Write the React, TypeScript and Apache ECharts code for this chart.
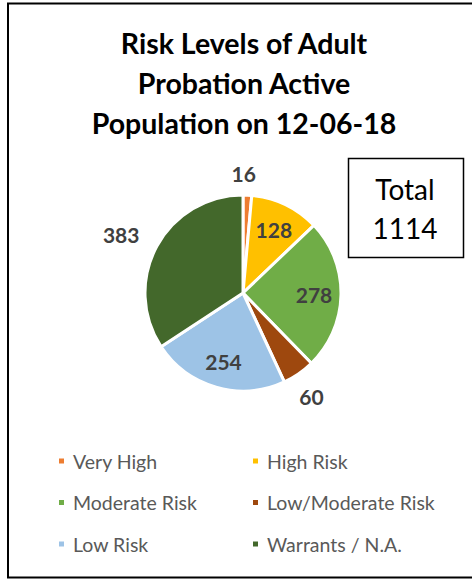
import React, { useEffect, useRef } from "react";
import * as echarts from "echarts";

const categories = ["Very High", "High Risk", "Moderate Risk", "Low/Moderate Risk", "Low Risk", "Warrants / N.A."];
const values = [16, 128, 278, 60, 254, 383];
const colors = ["#ED7D31", "#FFC000", "#70AD47", "#9E480E", "#9DC3E6", "#43682B"];
const insideLabel = [false, true, true, false, true, false];
const titleLines = ["Risk Levels of Adult", "Probation Active", "Population on 12-06-18"];
const totalLines = ["Total", "1114"];

const FONT = "Lato, 'Noto Sans', sans-serif";

export default function App() {
  const ref = useRef<HTMLDivElement>(null);
  useEffect(() => {
    if (!ref.current) return;
    const chart = echarts.init(ref.current, null, { renderer: "svg" });
    const center = [243, 293];
    const R = 98;
    const labelStyle = {
      color: "#404040",
      fontSize: 21,
      fontWeight: "bold" as const,
      fontFamily: FONT,
    };
    const outerOffsets: Record<number, number[]> = { 0: [-5, 6], 3: [-3, 0], 5: [-11, 1] };
    const legendCommon = {
      orient: "vertical",
      top: 451,
      itemWidth: 7,
      itemHeight: 7,
      itemGap: 21.5,
      icon: "rect",
      padding: 0,
      textStyle: { color: "#595959", fontSize: 19.5, fontFamily: FONT, lineHeight: 20, padding: [0, 0, 0, 3] },
    };
    chart.setOption({
      animation: false,
      backgroundColor: "#ffffff",
      title: {
        text: titleLines.join("\n"),
        left: 239,
        textAlign: "center",
        top: 18,
        textStyle: { fontSize: 28.5, fontWeight: "bold", color: "#000", fontFamily: FONT, lineHeight: 40 },
      },
      legend: [
        { ...legendCommon, left: 57, data: [categories[0], categories[2], categories[4]] },
        { ...legendCommon, left: 251, data: [categories[1], categories[3], categories[5]] },
      ],
      series: [
        {
          type: "pie",
          center,
          radius: [0, R],
          startAngle: 90,
          clockwise: true,
          label: { show: false },
          labelLine: { show: false },
          itemStyle: { borderColor: "#fff", borderWidth: 3 },
          data: categories.map((name, i) => ({ name, value: values[i], itemStyle: { color: colors[i] } })),
        },
        {
          type: "pie",
          center,
          radius: [0, 136],
          startAngle: 90,
          clockwise: true,
          silent: true,
          legendHoverLink: false,
          label: { show: true, position: "inside", ...labelStyle, formatter: "{c}" },
          labelLine: { show: false },
          itemStyle: { color: "transparent", borderWidth: 0 },
          emphasis: { disabled: true },
          data: categories.map((name, i) => ({
            name: name + " ",
            value: values[i],
            label: { show: insideLabel[i] },
          })),
        },
        {
          type: "pie",
          center,
          radius: [0, 246],
          startAngle: 90,
          clockwise: true,
          silent: true,
          legendHoverLink: false,
          label: { show: true, position: "inside", ...labelStyle, formatter: "{c}" },
          labelLine: { show: false },
          itemStyle: { color: "transparent", borderWidth: 0 },
          emphasis: { disabled: true },
          data: categories.map((name, i) => ({
            name: name + "  ",
            value: values[i],
            label: { show: !insideLabel[i], offset: outerOffsets[i] || [0, 0] },
          })),
        },
      ],
      graphic: [
        {
          type: "rect",
          shape: { x: 8, y: 3.5, width: 480, height: 574 },
          style: { fill: "none", stroke: "#000", lineWidth: 2 },
          silent: true,
        },
        {
          type: "rect",
          shape: { x: 348.5, y: 158.5, width: 115, height: 99 },
          style: { fill: "#fff", stroke: "#000", lineWidth: 1.5 },
          silent: true,
        },
        {
          type: "text",
          x: 405,
          y: 189,
          style: { text: totalLines[0], fill: "#000", fontSize: 28, fontFamily: FONT, align: "center", verticalAlign: "middle" },
        },
        {
          type: "text",
          x: 405,
          y: 228,
          style: { text: totalLines[1], fill: "#000", fontSize: 28, fontFamily: FONT, align: "center", verticalAlign: "middle" },
        },
      ],
    });
    return () => chart.dispose();
  }, []);
  return <div ref={ref} style={{ position: "fixed", left: 0, top: 0, width: 472, height: 579 }} />;
}
